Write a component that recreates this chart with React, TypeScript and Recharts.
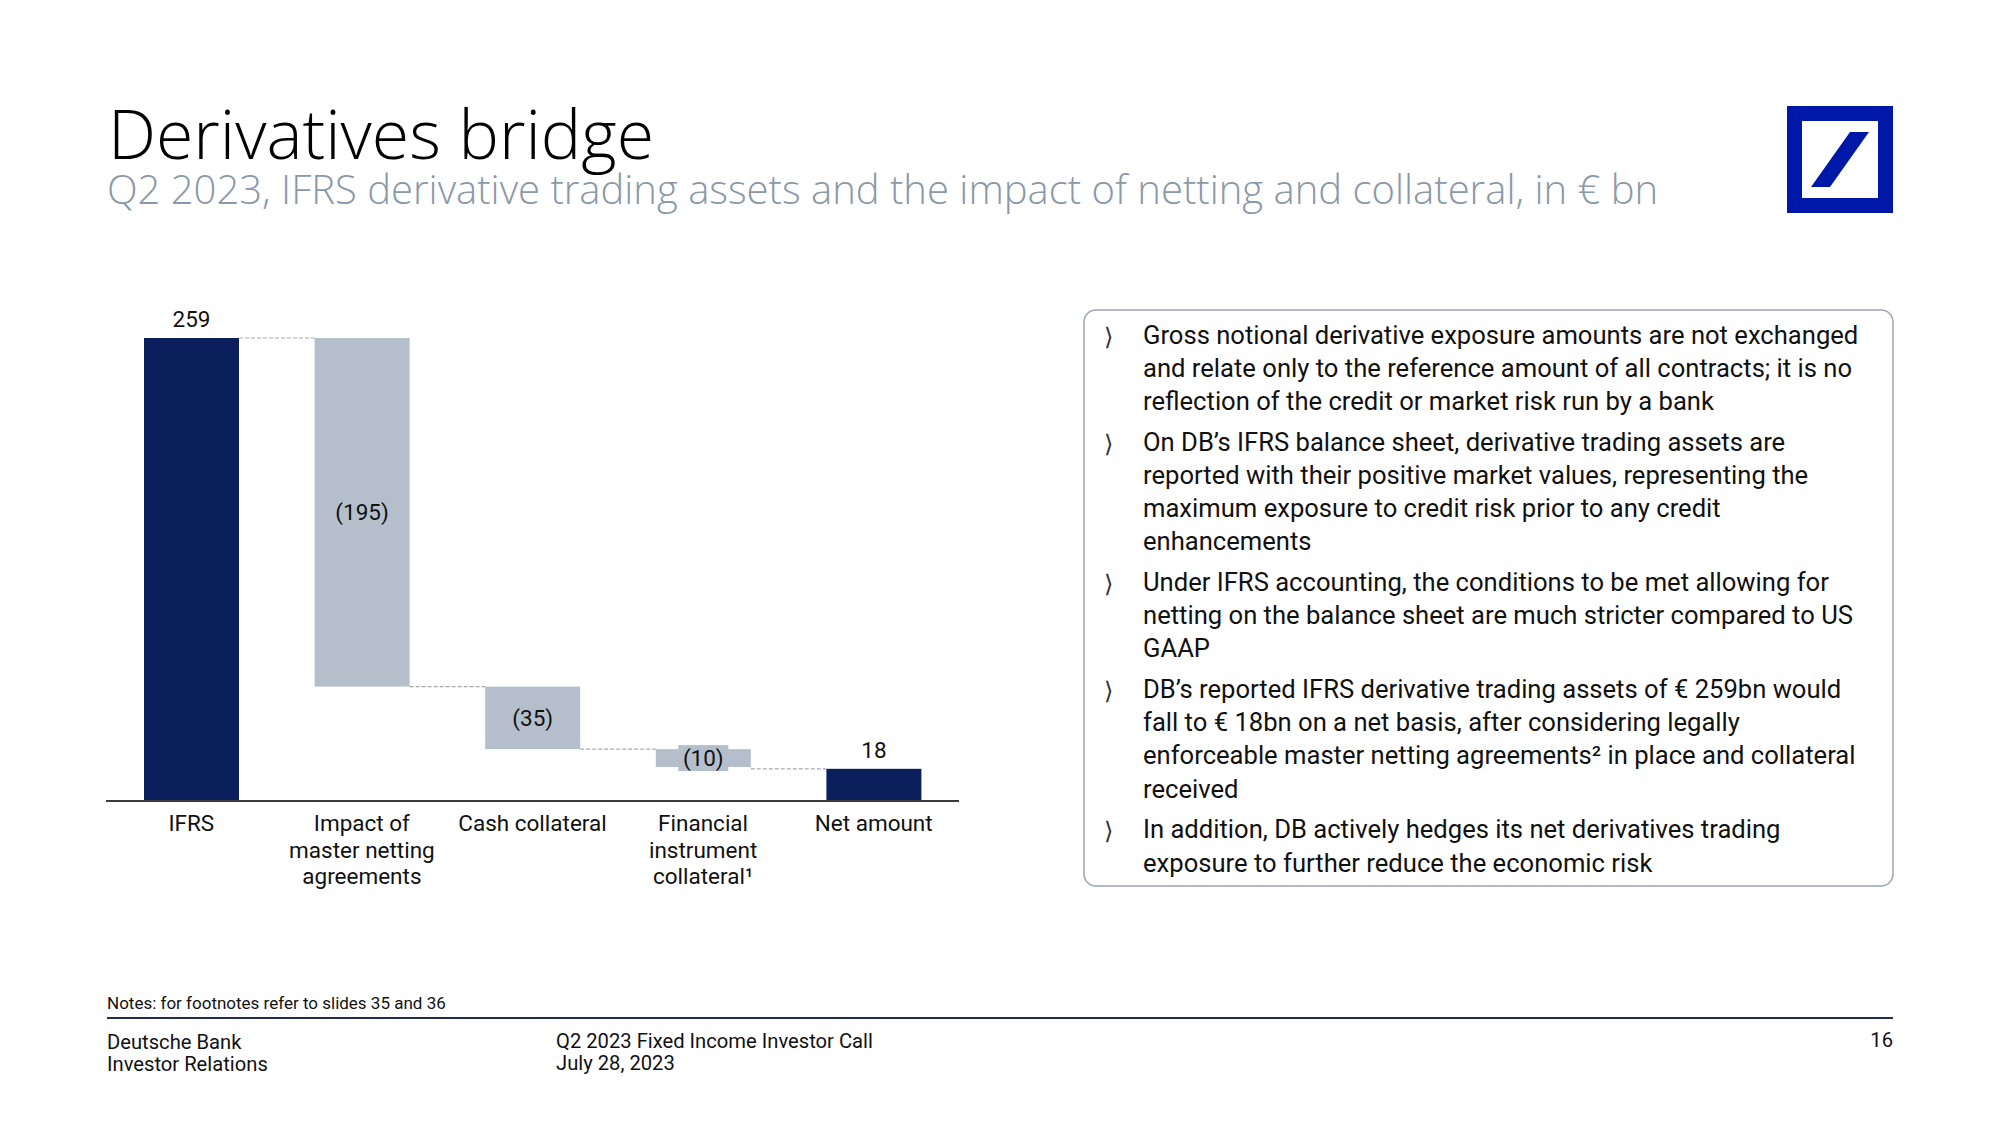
import React from 'react';
import { BarChart, Bar, XAxis, YAxis, Cell, LabelList } from 'recharts';

const categories = ['IFRS', 'Impact of master netting agreements', 'Cash collateral', 'Financial instrument collateral¹', 'Net amount'];
const tickLines = [['IFRS'], ['Impact of', 'master netting', 'agreements'], ['Cash collateral'], ['Financial', 'instrument', 'collateral¹'], ['Net amount']];
const values = [259, -195, -35, -10, 18];
const isTotal = [true, false, false, false, true];
const valueLabels = ['259', '(195)', '(35)', '(10)', '18'];

const bullets = [
  ['Gross notional derivative exposure amounts are not exchanged', 'and relate only to the reference amount of all contracts; it is no', 'reflection of the credit or market risk run by a bank'],
  ['On DB’s IFRS balance sheet, derivative trading assets are', 'reported with their positive market values, representing the', 'maximum exposure to credit risk prior to any credit', 'enhancements'],
  ['Under IFRS accounting, the conditions to be met allowing for', 'netting on the balance sheet are much stricter compared to US', 'GAAP'],
  ['DB’s reported IFRS derivative trading assets of € 259bn would', 'fall to € 18bn on a net basis, after considering legally', 'enforceable master netting agreements² in place and collateral', 'received'],
  ['In addition, DB actively hedges its net derivatives trading', 'exposure to further reduce the economic risk'],
];

const NAVY = '#0a1f5b';
const GREY = '#b4bfcb';
const FONT = 'Roboto, "Noto Sans", sans-serif';

// chart layout
const CHART_W = 1000;
const CHART_H = 900;
const MARGIN = { top: 338, left: 106, right: 41, bottom: 9 };
const PLOT_W = CHART_W - MARGIN.left - MARGIN.right;
const BAND = PLOT_W / categories.length;
const BAR_SIZE = 95;

let running = 0;
const data = categories.map((name, i) => {
  let base = 0;
  let bar = values[i];
  if (isTotal[i]) {
    running = values[i];
  } else {
    running += values[i];
    base = running;
    bar = -values[i];
  }
  return { name, base, bar, total: isTotal[i], label: valueLabels[i], idx: i };
});

const WaterfallBar = (props: any) => {
  const { x, y, width, height, index, fill } = props;
  return (
    <g>
      <rect x={x} y={y} width={width} height={height} fill={fill} />
      {index > 0 && (
        <line x1={x - (BAND - width)} x2={x} y1={y} y2={y} stroke="#a9a9a9" strokeWidth={1.2} strokeDasharray="4 2" />
      )}
    </g>
  );
};

const BarLabel = (props: any) => {
  const { x, y, width, height, index } = props;
  const d = data[index];
  const cx = x + width / 2;
  if (d.total) {
    return (
      <text x={cx} y={y - 11} textAnchor="middle" fontFamily={FONT} fontSize={22.5} fill="#111">
        {d.label}
      </text>
    );
  }
  const cy = y + height / 2;
  const tw = d.label.length * 11.5;
  return (
    <g>
      <rect x={cx - tw / 2 - 2} y={cy - 13} width={tw + 4} height={26} fill={GREY} />
      <text x={cx} y={cy + 8} textAnchor="middle" fontFamily={FONT} fontSize={22.5} fill="#111">
        {d.label}
      </text>
    </g>
  );
};

const CategoryTick = (props: any) => {
  const { x, y, index } = props;
  const lines = tickLines[index] || [];
  return (
    <text x={x} y={y} textAnchor="middle" fontFamily={FONT} fontSize={22.5} fill="#111">
      {lines.map((l, i) => (
        <tspan key={i} x={x} y={y + 22 + i * 26.5}>{l}</tspan>
      ))}
    </text>
  );
};

const TextPanel = () => {
  const rows: React.ReactNode[] = [];
  let base = 343.5;
  bullets.forEach((lines, bi) => {
    rows.push(
      <text key={'b' + bi} x={1104} y={base + 1} fontFamily='"DejaVu Sans", sans-serif' fontSize={24} fill="#333">⟩</text>
    );
    lines.forEach((l, li) => {
      rows.push(
        <text key={bi + '-' + li} x={1143} y={base + li * 33.2} fontFamily={FONT} fontSize={25.6} fill="#111">{l}</text>
      );
    });
    base += lines.length * 33.2 + 7.5;
  });
  return <g>{rows}</g>;
};

export default function App() {
  return (
    <div style={{ position: 'absolute', left: 0, top: 0, width: 2000, height: 1125, background: '#fff', overflow: 'hidden' }}>
      <div style={{ position: 'absolute', left: 0, top: 0 }}>
        <BarChart width={CHART_W} height={CHART_H} data={data} margin={MARGIN}>
          <XAxis
            dataKey="name"
            interval={0}
            height={90}
            tickLine={false}
            axisLine={{ stroke: '#3c3c3c', strokeWidth: 2 }}
            tick={<CategoryTick />}
          />
          <YAxis hide domain={[0, 'dataMax']} />
          <Bar dataKey="base" stackId="w" fill="transparent" barSize={BAR_SIZE} isAnimationActive={false} />
          <Bar dataKey="bar" stackId="w" barSize={BAR_SIZE} isAnimationActive={false} shape={<WaterfallBar />}>
            {data.map((d, i) => (
              <Cell key={i} fill={d.total ? NAVY : GREY} />
            ))}
            <LabelList dataKey="bar" content={<BarLabel />} />
          </Bar>
        </BarChart>
      </div>
      <svg width={2000} height={1125} style={{ position: 'absolute', left: 0, top: 0, pointerEvents: 'none' }}>
        <text x={108} y={159} fontFamily='"Open Sans", sans-serif' fontWeight={300} fontSize={68} fill="#000">Derivatives bridge</text>
        <text x={107} y={204} fontFamily='"Open Sans", sans-serif' fontWeight={300} fontSize={40} fill="#8a98a8">
          Q2 2023, IFRS derivative trading assets and the impact of netting and collateral, in € bn
        </text>

        <rect x={1787} y={106} width={106} height={107} fill="#0018a8" />
        <rect x={1802} y={121} width={76} height={77} fill="#fff" />
        <polygon points="1811,187 1830,187 1869,132 1850,132" fill="#0018a8" />

        <rect x={1084} y={310} width={809} height={576} rx={12} ry={12} fill="none" stroke="#9ba6b3" strokeWidth={1.5} />
        <TextPanel />

        <text x={107} y={1009} fontFamily={FONT} fontSize={17} fill="#111">Notes: for footnotes refer to slides 35 and 36</text>
        <line x1={107} x2={1893} y1={1018} y2={1018} stroke="#1f2d4f" strokeWidth={2} />
        <text x={107} y={1049} fontFamily={FONT} fontSize={20.2} fill="#111">Deutsche Bank</text>
        <text x={107} y={1071} fontFamily={FONT} fontSize={20.2} fill="#111">Investor Relations</text>
        <text x={556} y={1048} fontFamily={FONT} fontSize={20.2} fill="#111">Q2 2023 Fixed Income Investor Call</text>
        <text x={556} y={1070} fontFamily={FONT} fontSize={20.2} fill="#111">July 28, 2023</text>
        <text x={1893} y={1047} textAnchor="end" fontFamily={FONT} fontSize={20.2} fill="#111">16</text>
      </svg>
    </div>
  );
}
